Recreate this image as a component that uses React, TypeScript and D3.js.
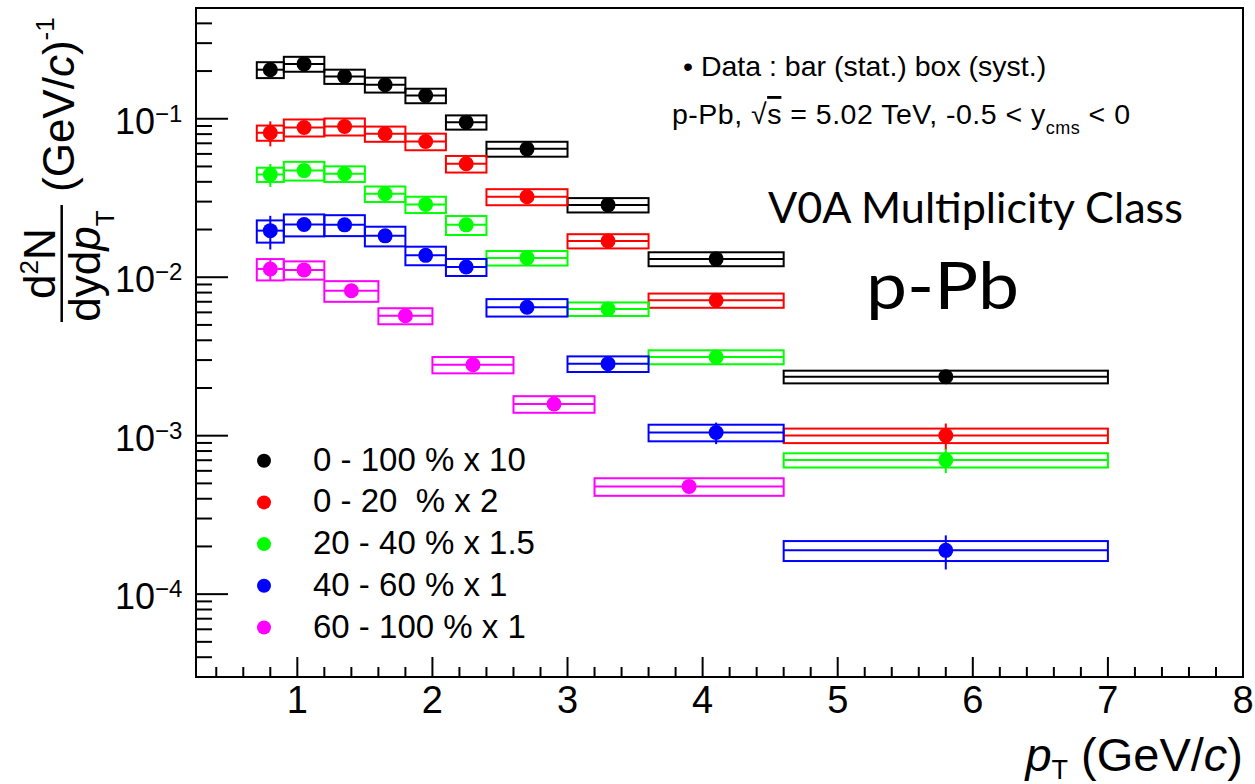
import React from "react";
import * as d3 from "d3";

// pT bins (GeV/c) for the first four classes
const ptCenter = [0.8, 1.05, 1.35, 1.65, 1.95, 2.25, 2.7, 3.3, 4.1, 5.8];
const ptLow = [0.7, 0.9, 1.2, 1.5, 1.8, 2.1, 2.4, 3.0, 3.6, 4.6];
const ptHigh = [0.9, 1.2, 1.5, 1.8, 2.1, 2.4, 3.0, 3.6, 4.6, 7.0];
// 60-100 % uses a coarser binning
const ptCenterPeri = [0.8, 1.05, 1.4, 1.8, 2.3, 2.9, 3.9];
const ptLowPeri = [0.7, 0.9, 1.2, 1.6, 2.0, 2.6, 3.2];
const ptHighPeri = [0.9, 1.2, 1.6, 2.0, 2.6, 3.2, 4.6];

// yields (already scaled), relative stat and syst errors
const yield0_100 = [0.204, 0.222, 0.185, 0.164, 0.14, 0.0952, 0.0646, 0.0286, 0.01305, 0.002355];
const stat0_100 = [0.03, 0.03, 0.03, 0.03, 0.03, 0.03, 0.03, 0.03, 0.04, 0.06];
const syst0_100 = [0.115, 0.108, 0.103, 0.108, 0.105, 0.103, 0.108, 0.104, 0.101, 0.092];

const yield0_20 = [0.0816, 0.0881, 0.0894, 0.0804, 0.0719, 0.052, 0.0322, 0.01694, 0.00715, 0.001003];
const stat0_20 = [0.18, 0.06, 0.04, 0.04, 0.04, 0.04, 0.04, 0.04, 0.05, 0.19];
const syst0_20 = [0.11, 0.123, 0.123, 0.11, 0.12, 0.12, 0.116, 0.103, 0.103, 0.105];

const yield20_40 = [0.0445, 0.0471, 0.045, 0.0336, 0.0288, 0.0214, 0.01324, 0.00631, 0.00314, 0.000702];
const stat20_40 = [0.165, 0.07, 0.04, 0.04, 0.04, 0.06, 0.05, 0.05, 0.06, 0.173];
const syst20_40 = [0.103, 0.135, 0.113, 0.112, 0.118, 0.137, 0.105, 0.098, 0.101, 0.103];

const yield40_60 = [0.01968, 0.0215, 0.0214, 0.01824, 0.01374, 0.01161, 0.00646, 0.002844, 0.001047, 0.000189];
const stat40_60 = [0.24, 0.05, 0.04, 0.04, 0.04, 0.05, 0.05, 0.06, 0.155, 0.243];
const syst40_60 = [0.16, 0.158, 0.151, 0.142, 0.134, 0.123, 0.126, 0.113, 0.12, 0.144];

const yield60_100 = [0.01128, 0.01112, 0.00822, 0.00571, 0.002805, 0.001585, 0.000478];
const stat60_100 = [0.155, 0.05, 0.05, 0.04, 0.05, 0.05, 0.05];
const syst60_100 = [0.154, 0.132, 0.149, 0.116, 0.118, 0.12, 0.127];

const legendLabels = ["0 - 100 % x 10", "0 - 20  % x 2", "20 - 40 % x 1.5", "40 - 60 % x 1", "60 - 100 % x 1"];
const colors = ["#000000", "#ff0000", "#00ff00", "#0000ff", "#ff00ff"];

const xMajor = [1, 2, 3, 4, 5, 6, 7, 8];
const yMajorExp = [-4, -3, -2, -1];

const series = [
  { c: ptCenter, lo: ptLow, hi: ptHigh, y: yield0_100, st: stat0_100, sy: syst0_100 },
  { c: ptCenter, lo: ptLow, hi: ptHigh, y: yield0_20, st: stat0_20, sy: syst0_20 },
  { c: ptCenter, lo: ptLow, hi: ptHigh, y: yield20_40, st: stat20_40, sy: syst20_40 },
  { c: ptCenter, lo: ptLow, hi: ptHigh, y: yield40_60, st: stat40_60, sy: syst40_60 },
  { c: ptCenterPeri, lo: ptLowPeri, hi: ptHighPeri, y: yield60_100, st: stat60_100, sy: syst60_100 },
];

const W = 1255;
const H = 784;
const frame = { left: 196, top: 8, right: 1243, bottom: 677 };
const FONT = "'Liberation Sans', Arial, Helvetica, sans-serif";
const SLIDE = "Lato, 'Open Sans', sans-serif";

const App = () => {
  const x = d3.scaleLinear().domain([0.25, 8]).range([frame.left, frame.right]);
  const y = d3.scaleLog().domain([3e-5, 0.5]).range([frame.bottom, frame.top]);

  const xMinor = d3.range(0.4, 8.0001, 0.2).filter((v) => Math.abs(v - Math.round(v)) > 1e-6);
  const yMinor: number[] = [];
  for (let e = -5; e <= -1; e++) {
    for (let k = 2; k <= 9; k++) {
      const v = k * Math.pow(10, e);
      if (v > 3e-5 && v < 0.5) yMinor.push(v);
    }
  }

  return (
    <svg width={W} height={H} style={{ position: "absolute", left: 0, top: 0, background: "#fff" }} fontFamily={FONT}>
      <rect width={W} height={H} fill="#fff" />

      {/* data */}
      {series.map((s, si) => (
        <g key={si} stroke={colors[si]} strokeWidth={2} fill="none">
          {s.y.map((v, i) => {
            const x0 = x(s.lo[i]);
            const x1 = x(s.hi[i]);
            const xc = x(s.c[i]);
            return (
              <g key={i}>
                <rect x={x0} y={y(v * (1 + s.sy[i]))} width={x1 - x0} height={y(v * (1 - s.sy[i])) - y(v * (1 + s.sy[i]))} />
                <line x1={x0} x2={x1} y1={y(v)} y2={y(v)} />
                <line x1={xc} x2={xc} y1={y(v * (1 + s.st[i]))} y2={y(v * (1 - s.st[i]))} />
                <circle cx={xc} cy={y(v)} r={7.5} fill={colors[si]} stroke="none" />
              </g>
            );
          })}
        </g>
      ))}

      {/* frame */}
      <rect x={frame.left} y={frame.top} width={frame.right - frame.left} height={frame.bottom - frame.top} fill="none" stroke="#000" strokeWidth={2} />

      {/* ticks */}
      <g stroke="#000" strokeWidth={2}>
        {xMajor.map((v) => (
          <line key={"M" + v} x1={x(v)} x2={x(v)} y1={frame.bottom} y2={frame.bottom - 20} />
        ))}
        {xMinor.map((v) => (
          <line key={"m" + v} x1={x(v)} x2={x(v)} y1={frame.bottom} y2={frame.bottom - 10} />
        ))}
        {yMajorExp.map((e) => (
          <line key={"YM" + e} x1={frame.left} x2={frame.left + 32} y1={y(Math.pow(10, e))} y2={y(Math.pow(10, e))} />
        ))}
        {yMinor.map((v) => (
          <line key={"ym" + v} x1={frame.left} x2={frame.left + 16} y1={y(v)} y2={y(v)} />
        ))}
      </g>
      <g fontSize={38} textAnchor="middle">
        {xMajor.map((v) => (
          <text key={v} x={x(v)} y={713}>{v}</text>
        ))}
      </g>
      <g>
        {yMajorExp.map((e) => (
          <text key={e} x={155} y={y(Math.pow(10, e)) + 15} fontSize={36} textAnchor="end">
            10
            <tspan x={155} dy={-12} fontSize={24} textAnchor="start">{"\u2212" + -e}</tspan>
          </text>
        ))}
      </g>

      {/* x title */}
      <text x={1243} y={771} fontSize={47} textAnchor="end">
        <tspan fontStyle="italic">p</tspan>
        <tspan fontSize={27} dy={8}>T</tspan>
        <tspan dy={-8}>{" (GeV/"}</tspan>
        <tspan fontStyle="italic">c</tspan>
        <tspan>)</tspan>
      </text>

      {/* y title */}
      <g transform="translate(61.7,322) rotate(-90)" fontSize={44}>
        <line x1={0} x2={117} y1={0} y2={0} stroke="#000" strokeWidth={2.5} />
        <text x={58.5} y={-7} textAnchor="middle">
          d<tspan fontSize={26} dy={-17}>2</tspan>
          <tspan dy={17}>N</tspan>
        </text>
        <text x={56} y={38} textAnchor="middle">
          dyd<tspan fontStyle="italic">p</tspan>
          <tspan fontSize={26} dy={14}>T</tspan>
        </text>
        <text x={130} y={12}>
          (GeV/<tspan fontStyle="italic">c</tspan>)
          <tspan fontSize={26} dy={-20}>-1</tspan>
        </text>
      </g>

      {/* legend */}
      {legendLabels.map((l, i) => {
        const cy = 460.7 + i * 41.7;
        return (
          <g key={l}>
            <circle cx={264} cy={cy} r={7} fill={colors[i]} />
            <text x={313} y={cy + 10} fontSize={33} style={{ whiteSpace: "pre" }}>{l}</text>
          </g>
        );
      })}

      {/* annotations */}
      <text x={683} y={76} fontSize={28.5}>{"\u2022 Data : bar (stat.) box (syst.)"}</text>
      <text x={672} y={124} fontSize={28.5} textLength={458} lengthAdjust="spacing">
        {"p-Pb, \u221A"}
        <tspan style={{ textDecoration: "overline" }}>s</tspan>
        {" = 5.02 TeV, -0.5 < y"}
        <tspan fontSize={18} dy={10}>cms</tspan>
        <tspan dy={-10}>{" < 0"}</tspan>
      </text>
      <text x={768} y={223} fontSize={42} fontFamily={SLIDE} textLength={415} lengthAdjust="spacingAndGlyphs">
        V0A Multiplicity Class
      </text>
      <text x={866} y={309} fontSize={66} fontFamily={SLIDE} textLength={153} lengthAdjust="spacingAndGlyphs">
        p-Pb
      </text>
    </svg>
  );
};

export default App;
